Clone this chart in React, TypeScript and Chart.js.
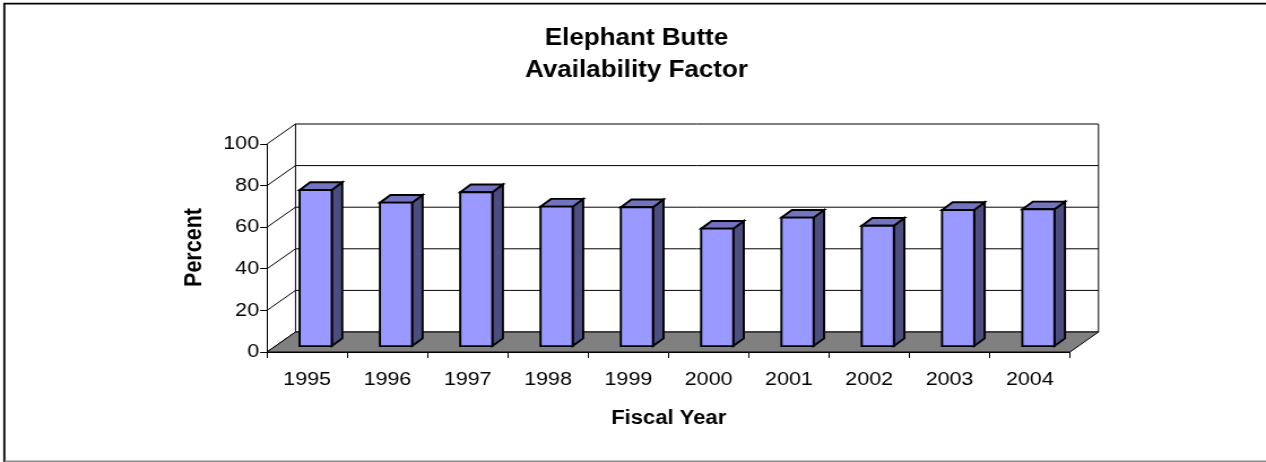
import React, { useEffect, useRef } from "react";
import { Chart, registerables } from "chart.js";

Chart.register(...registerables);

// ---- data ----
const fiscalYears = ["1995", "1996", "1997", "1998", "1999", "2000", "2001", "2002", "2003", "2004"];
const availability = [75.3, 69.2, 74.2, 67.3, 67.0, 56.7, 62.0, 58.1, 65.7, 66.0];
const yMin = 0;
const yMax = 100;
const yStep = 20;
const titleLines = ["Elephant Butte", "Availability Factor"];
const xTitle = "Fiscal Year";
const yTitle = "Percent";

// ---- layout / style ----
const W = 1120;
const H = 462;
const SX = 1266 / W;
const DEPTH_X = 25.2;
const DEPTH_Y = -20;
const FONT = "Arial, 'Liberation Sans', Helvetica, sans-serif";
const FRONT = "#9999FF";
const SIDE = "#4D4D80";
const TOP = "#7373BF";
const FLOOR = "#808080";

const threeD = {
  id: "threeD",
  beforeDraw(chart: any) {
    const ctx = chart.ctx;
    ctx.save();
    ctx.fillStyle = "#fff";
    ctx.fillRect(0, 0, chart.width, chart.height);
    // outer frame
    ctx.strokeStyle = "#000";
    ctx.lineWidth = 1.8;
    ctx.beginPath();
    ctx.moveTo(3.8, H);
    ctx.lineTo(3.8, 3.7);
    ctx.lineTo(W, 3.7);
    ctx.stroke();
    ctx.strokeStyle = "#8a8a8a";
    ctx.lineWidth = 1.6;
    ctx.beginPath();
    ctx.moveTo(3.8, 461.3);
    ctx.lineTo(W, 461.3);
    ctx.stroke();
    ctx.restore();
  },
  beforeDatasetsDraw(chart: any) {
    const ctx = chart.ctx;
    const ys = chart.scales.y;
    const { left, right } = chart.chartArea;
    const top = ys.getPixelForValue(yMax);
    const bottom = ys.getPixelForValue(yMin);
    ctx.save();
    ctx.strokeStyle = "#000";
    ctx.lineWidth = 1;
    // back wall gridlines and left wall diagonals
    for (let v = yMin; v <= yMax; v += yStep) {
      const py = ys.getPixelForValue(v);
      ctx.beginPath();
      ctx.moveTo(left, py);
      ctx.lineTo(left + DEPTH_X, py + DEPTH_Y);
      ctx.lineTo(right + DEPTH_X, py + DEPTH_Y);
      ctx.stroke();
    }
    // wall verticals
    ctx.beginPath();
    ctx.moveTo(left + DEPTH_X, top + DEPTH_Y);
    ctx.lineTo(left + DEPTH_X, bottom + DEPTH_Y);
    ctx.moveTo(right + DEPTH_X, top + DEPTH_Y);
    ctx.lineTo(right + DEPTH_X, bottom + DEPTH_Y);
    ctx.stroke();
    // floor
    ctx.beginPath();
    ctx.moveTo(left, bottom);
    ctx.lineTo(right, bottom);
    ctx.lineTo(right + DEPTH_X, bottom + DEPTH_Y);
    ctx.lineTo(left + DEPTH_X, bottom + DEPTH_Y);
    ctx.closePath();
    ctx.fillStyle = FLOOR;
    ctx.fill();
    ctx.stroke();
    ctx.restore();
  },
  afterDatasetsDraw(chart: any) {
    const ctx = chart.ctx;
    const meta = chart.getDatasetMeta(0);
    const ox = DEPTH_X * 0.3;
    const oy = DEPTH_Y * 0.27;
    const bdx = DEPTH_X * 0.37;
    const bdy = DEPTH_Y * 0.385;
    ctx.save();
    ctx.strokeStyle = "#000";
    ctx.lineWidth = 1.9;
    ctx.lineJoin = "miter";
    meta.data.forEach((el: any) => {
      const p = el.getProps(["x", "y", "base", "width"], true);
      const xL = p.x - p.width / 2 + ox;
      const xR = p.x + p.width / 2 + ox;
      const yT = p.y + oy;
      const yB = p.base + oy;
      // side
      ctx.beginPath();
      ctx.moveTo(xR, yT);
      ctx.lineTo(xR + bdx, yT + bdy);
      ctx.lineTo(xR + bdx, yB + bdy);
      ctx.lineTo(xR, yB);
      ctx.closePath();
      ctx.fillStyle = SIDE;
      ctx.fill();
      ctx.stroke();
      // top
      ctx.beginPath();
      ctx.moveTo(xL, yT);
      ctx.lineTo(xR, yT);
      ctx.lineTo(xR + bdx, yT + bdy);
      ctx.lineTo(xL + bdx, yT + bdy);
      ctx.closePath();
      ctx.fillStyle = TOP;
      ctx.fill();
      ctx.stroke();
      // front
      ctx.beginPath();
      ctx.rect(xL, yT, xR - xL, yB - yT);
      ctx.fillStyle = FRONT;
      ctx.fill();
      ctx.stroke();
    });
    ctx.restore();
  },
  afterDraw(chart: any) {
    const ctx = chart.ctx;
    ctx.save();
    ctx.fillStyle = "#000";
    ctx.textAlign = "center";
    ctx.textBaseline = "alphabetic";
    ctx.font = `bold 23px ${FONT}`;
    ctx.fillText(titleLines[0], 563.1, 44.5);
    ctx.fillText(titleLines[1], 563.1, 76.7);
    ctx.font = `bold 19.5px ${FONT}`;
    ctx.fillText(xTitle, 591.6, 424.3);
    ctx.translate(178.4, 247.5);
    ctx.rotate(-Math.PI / 2);
    ctx.font = `bold 21.5px ${FONT}`;
    ctx.fillText(yTitle, 0, 0);
    ctx.restore();
  },
};

export default function App() {
  const ref = useRef<HTMLCanvasElement>(null);
  useEffect(() => {
    if (!ref.current) return;
    const chart = new Chart(ref.current, {
      type: "bar",
      data: {
        labels: fiscalYears,
        datasets: [
          {
            label: "Availability Factor",
            data: availability,
            backgroundColor: "rgba(0,0,0,0)",
            borderWidth: 0,
            barPercentage: 0.4,
            categoryPercentage: 1,
          },
        ],
      },
      options: {
        responsive: false,
        animation: false,
        devicePixelRatio: 1,
        layout: { padding: { left: 186.2, right: 173.4, top: 144, bottom: 60 } },
        plugins: {
          legend: { display: false },
          title: { display: false },
          tooltip: { enabled: false },
        },
        scales: {
          x: {
            grid: { drawOnChartArea: false, drawTicks: true, tickLength: 6, color: "#000", lineWidth: 1, offset: true },
            border: { display: true, color: "#000", width: 1 },
            ticks: { color: "#000", font: { family: FONT, size: 19 }, padding: 10, maxRotation: 0, autoSkip: false },
            afterFit: (s: any) => {
              s.height = 50;
            },
          },
          y: {
            min: yMin,
            max: yMax,
            ticks: { stepSize: yStep, color: "#000", font: { family: FONT, size: 19 }, padding: 1 },
            grid: { drawOnChartArea: false, drawTicks: true, tickLength: 6, color: "#000", lineWidth: 1 },
            border: { display: true, color: "#000", width: 1 },
            afterFit: (s: any) => {
              s.width = 50;
            },
          },
        },
      },
      plugins: [threeD],
    });
    return () => chart.destroy();
  }, []);
  return (
    <div style={{ position: "fixed", left: 0, top: 0, width: 1266, height: 462, overflow: "hidden", background: "#fff" }}>
      <canvas
        ref={ref}
        width={W}
        height={H}
        style={{ display: "block", width: W, height: H, transform: `scaleX(${SX})`, transformOrigin: "0 0" }}
      />
    </div>
  );
}
